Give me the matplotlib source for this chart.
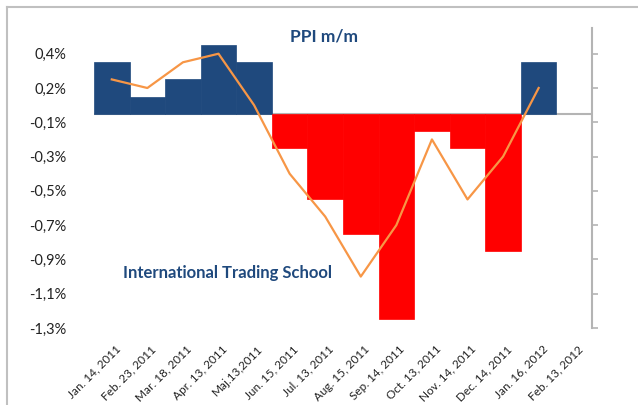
import numpy as np
import matplotlib
matplotlib.use("Agg")
import matplotlib.pyplot as plt
from matplotlib.lines import Line2D
from matplotlib.transforms import ScaledTranslation

plt.rcParams['font.family'] = ['Lato', 'DejaVu Sans']

dates = ["Jan. 14, 2011", "Feb. 23, 2011", "Mar. 18, 2011", "Apr. 13, 2011",
         "Maj.13,2011", "Jun. 15, 2011", "Jul. 13, 2011", "Aug. 15, 2011",
         "Sep. 14, 2011", "Oct. 13, 2011", "Nov. 14, 2011", "Dec. 14, 2011",
         "Jan. 16, 2012", "Feb. 13, 2012"]
actual = [0.3, 0.1, 0.2, 0.4, 0.3, -0.2, -0.5, -0.7, -1.2, -0.1, -0.2, -0.8, 0.3, np.nan]
forecast = [0.2, 0.15, 0.3, 0.35, 0.05, -0.35, -0.6, -0.95, -0.65, -0.15, -0.5, -0.25, 0.15, np.nan]
ytick_vals = [0.35, 0.15, -0.05, -0.25, -0.45, -0.65, -0.85, -1.05, -1.25]
ytick_labels = ["0,4%", "0,2%", "-0,1%", "-0,3%", "-0,5%", "-0,7%", "-0,9%", "-1,1%", "-1,3%"]

blue = "#1F497D"
red = "#FF0000"
orange = "#F79646"
grey = "#B4B4B4"

fig = plt.figure(figsize=(6.38, 4.05), dpi=100)
ax = fig.add_axes([94/638, 1-328/405, (592-94)/638, (328-28)/405])

x = np.arange(len(dates))
vals = np.array(actual)
has = ~np.isnan(vals)
cols = [blue if v >= 0 else red for v in vals[has]]
ax.axhline(0, color=grey, lw=1.5, zorder=1)
ax.bar(x[has], vals[has], width=1.0, color=cols, edgecolor=cols, linewidth=0.5, zorder=2)
ax.plot(x, forecast, color=orange, lw=1.6, zorder=3)

ax.set_xlim(-0.5, len(dates)-0.5)
ax.set_ylim(-1.25, 0.5)

for s in ["top", "left", "bottom"]:
    ax.spines[s].set_visible(False)
ax.spines["right"].set_color(grey)
ax.spines["right"].set_linewidth(1.5)

ax.set_yticks(ytick_vals)
ax.set_yticklabels(ytick_labels, fontsize=10.5, color="#222222")
ax.tick_params(axis="y", which="both", left=False, right=True, labelleft=True,
               direction="out", length=4, width=1.2, color=grey, pad=16)

ax.set_xticks(x)
ax.set_xticklabels(dates, rotation=45, ha="right", va="top",
                   rotation_mode="anchor", fontsize=8.5, color="#222222")
ax.tick_params(axis="x", length=0, pad=11)
for lab in ax.get_xticklabels():
    lab.set_transform(lab.get_transform() + ScaledTranslation(3/100, 0, fig.dpi_scale_trans))

fig.text(324/638, 1-36/405, "PPI m/m", ha="center", va="center",
         fontsize=12.5, fontweight="bold", color=blue)
fig.text(227/638, 1-273/405, "International Trading School", ha="center", va="center",
         fontsize=12, fontweight="bold", color=blue)

# chart frame (top and left edges visible)
fig.add_artist(Line2D([6.5/638, 1], [1-6.5/405, 1-6.5/405], color="#C0C0C0", lw=1.5,
                      transform=fig.transFigure))
fig.add_artist(Line2D([6.5/638, 6.5/638], [0, 1-6.5/405], color="#C0C0C0", lw=1.5,
                      transform=fig.transFigure))

fig.savefig("out.png", dpi=100)
